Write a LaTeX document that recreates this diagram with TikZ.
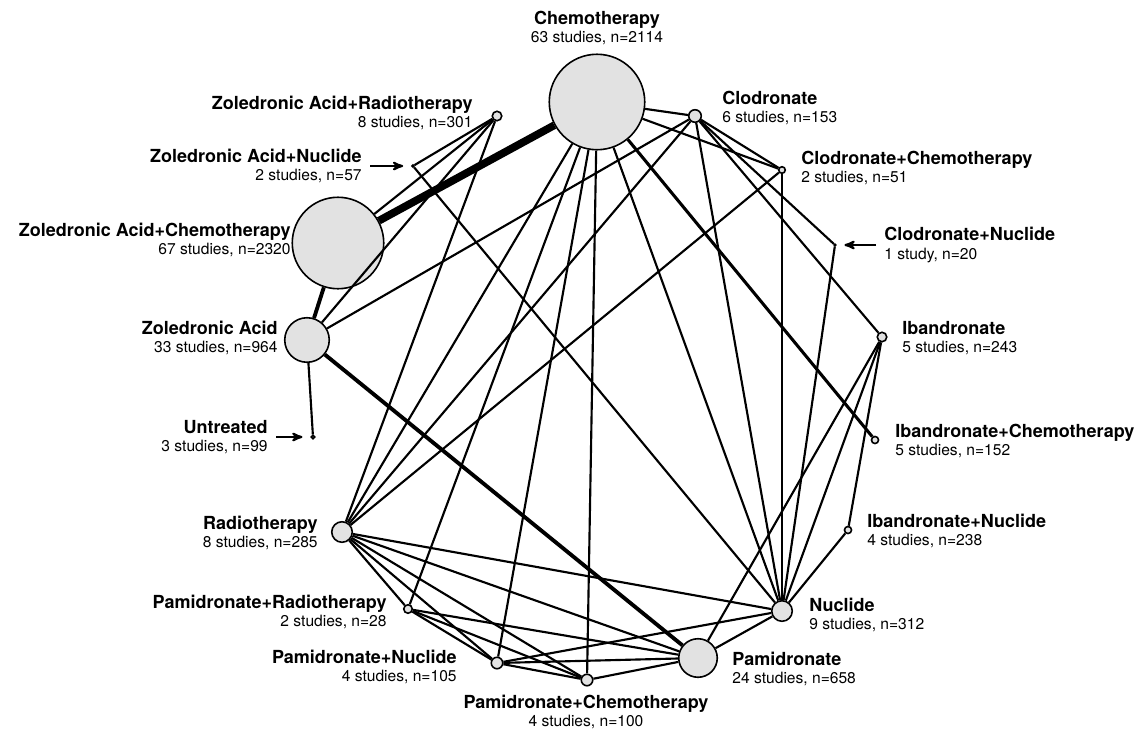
\documentclass[tikz,border=0pt]{standalone}
\usepackage{fontspec}
\setmainfont{TeX Gyre Heros}
\usepackage{tikz}
\usetikzlibrary{arrows}
\definecolor{node_fill}{RGB}{226,226,226}
\newcommand{\tlab}[2]{{\fontsize{13.5}{14}\selectfont\bfseries #1}\\#2}

\begin{document}
\begin{tikzpicture}[x=0.75pt,y=-0.75pt,semithick,>=stealth']
    \tikzstyle{treat}=[draw=black, circle, line width=1.2pt, fill=node_fill, inner sep=0pt]
    \tikzstyle{studytext}=[text=black, inner sep=0pt, font=\fontsize{11.7}{14}\selectfont]
    \tikzstyle{lft}=[studytext, anchor=east, align=right]
    \tikzstyle{rgt}=[studytext, anchor=west, align=left]
    \tikzstyle{ctr}=[studytext, anchor=center, align=center]
    \tikzstyle{link}=[line width=1.6pt]
    \tikzstyle{heavy}=[line width=2.9pt]
    \tikzstyle{heaviest}=[line width=5.8pt]
    \tikzstyle{pointer}=[->, line width=1.6pt, shorten <=6pt, shorten >=6pt]
    \useasboundingbox (0,0) rectangle (1139,732);

    % treatments
    \node[treat, minimum size=71.6pt] (CT)  at (597,102) {};
    \node[treat, minimum size=68.6pt] (ZAC) at (338,243) {};
    \node[treat, minimum size=33.4pt] (ZA)  at (307,340) {};
    \node[treat, minimum size=28.9pt] (PA)  at (698,658) {};
    \node[treat, minimum size=15.4pt] (NU)  at (782,611) {};
    \node[treat, minimum size=15.4pt] (RT)  at (342,532) {};
    \node[treat, minimum size=9.4pt]  (CL)  at (695,116) {};
    \node[treat, minimum size=8.6pt]  (PAN) at (497,663) {};
    \node[treat, minimum size=8.6pt]  (PAC) at (587,680) {};
    \node[treat, minimum size=7.1pt]  (ZAR) at (497,116) {};
    \node[treat, minimum size=7.1pt]  (IB)  at (882,337) {};
    \node[treat, minimum size=6.4pt]  (PAR) at (408,609) {};
    \node[treat, minimum size=5.3pt]  (IBC) at (875,440) {};
    \node[treat, minimum size=5.3pt]  (IBN) at (848,530) {};
    \node[treat, minimum size=4.9pt]  (CLC) at (782,170) {};
    \node[treat, minimum size=2.6pt]  (UT)  at (313,437) {};
    \node[treat, minimum size=1.5pt]  (ZAN) at (413,166) {};
    \node[treat, minimum size=1pt]    (CLN) at (835,245) {};

    % labels
    \node[ctr] (lblCT)  at (597,28)  {\tlab{Chemotherapy}{63 studies, n=2114}};
    \node[rgt] (lblCL)  at (722,108) {\tlab{Clodronate}{6 studies, n=153}};
    \node[rgt] (lblCLC) at (801,168) {\tlab{Clodronate+Chemotherapy}{2 studies, n=51}};
    \node[rgt] (lblCLN) at (884,245) {\tlab{Clodronate+Nuclide}{1 study, n=20}};
    \node[rgt] (lblIB)  at (902,338) {\tlab{Ibandronate}{5 studies, n=243}};
    \node[rgt] (lblIBC) at (895,441) {\tlab{Ibandronate+Chemotherapy}{5 studies, n=152}};
    \node[rgt] (lblIBN) at (867,531) {\tlab{Ibandronate+Nuclide}{4 studies, n=238}};
    \node[rgt] (lblNU)  at (809,615) {\tlab{Nuclide}{9 studies, n=312}};
    \node[rgt] (lblPA)  at (732,669) {\tlab{Pamidronate}{24 studies, n=658}};
    \node[ctr] (lblPAC) at (586,712) {\tlab{Pamidronate+Chemotherapy}{4 studies, n=100}};
    \node[lft] (lblPAN) at (457,667) {\tlab{Pamidronate+Nuclide}{4 studies, n=105}};
    \node[lft] (lblPAR) at (387,612) {\tlab{Pamidronate+Radiotherapy}{2 studies, n=28}};
    \node[lft] (lblRT)  at (318,533) {\tlab{Radiotherapy}{8 studies, n=285}};
    \node[lft] (lblUT)  at (268,437) {\tlab{Untreated}{3 studies, n=99}};
    \node[lft] (lblZA)  at (278,338) {\tlab{Zoledronic Acid}{33 studies, n=964}};
    \node[lft] (lblZAC) at (291,240) {\tlab{Zoledronic Acid+Chemotherapy}{67 studies, n=2320}};
    \node[lft] (lblZAN) at (362,166) {\tlab{Zoledronic Acid+Nuclide}{2 studies, n=57}};
    \node[lft] (lblZAR) at (473,113) {\tlab{Zoledronic Acid+Radiotherapy}{8 studies, n=301}};

    \draw[pointer] (lblZAN.east) -- (ZAN);
    \draw[pointer] (lblUT.east) -- (UT);
    \draw[pointer] (lblCLN.west) -- (CLN);

    % comparisons
    \path[link]
     (CT) edge (CL)
     (CT) edge (CLC)
     (CT) edge (RT)
     (CT) edge (PAR)
     (CT) edge (PAN)
     (CT) edge (PAC)
     (CT) edge (NU)
     (ZAR) edge (ZAN)
     (ZAR) edge (ZAC)
     (ZAR) edge (ZA)
     (ZAR) edge (RT)
     (ZAN) edge (NU)
     (ZA) edge (UT)
     (ZA) edge (CL)
     (CL) edge (CLC)
     (CL) edge (CLN)
     (CL) edge (IB)
     (CL) edge (NU)
     (CL) edge (RT)
     (CLC) edge (NU)
     (CLC) edge (RT)
     (CLN) edge (NU)
     (IB) edge (NU)
     (IB) edge (IBN)
     (IB) edge (PA)
     (IBN) edge (NU)
     (NU) edge (RT)
     (NU) edge (PAN)
     (NU) edge (PA)
     (PA) edge (RT)
     (PA) edge (PAR)
     (PA) edge (PAN)
     (PA) edge (PAC)
     (PAC) edge (RT)
     (PAC) edge (PAR)
     (PAC) edge (PAN)
     (PAN) edge (RT)
     (PAN) edge (PAR)
     (PAR) edge (RT);
    \path
     (CT) edge[line width=2.3pt] (IBC)
     (ZAC) edge[heavy] (ZA)
     (ZA) edge[heavy] (PA)
     (CT) edge[heaviest] (ZAC);
\end{tikzpicture}
\end{document}
